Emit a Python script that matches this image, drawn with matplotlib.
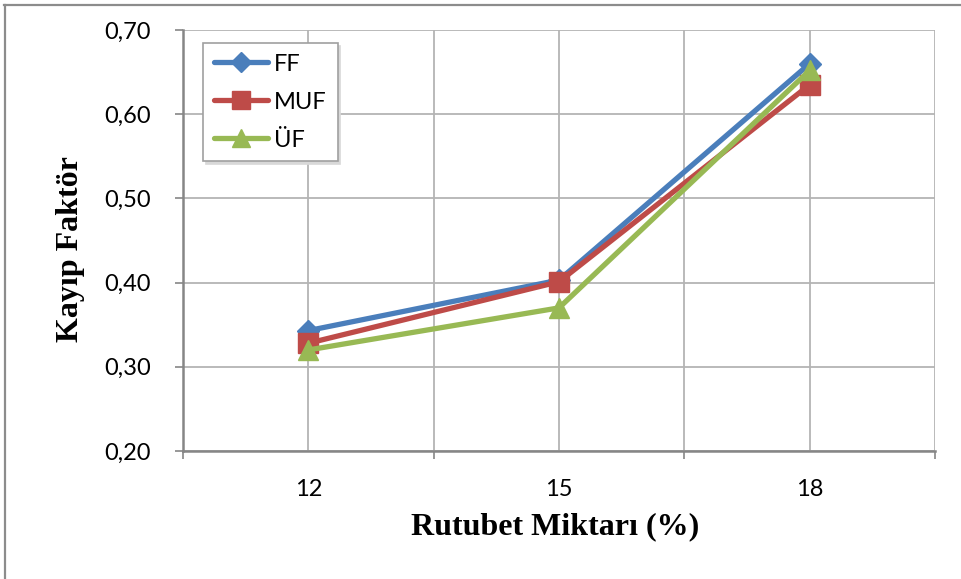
import matplotlib
matplotlib.use("Agg")
import matplotlib.pyplot as plt
from matplotlib.lines import Line2D
from matplotlib.ticker import FuncFormatter

# Moisture content categories (%)
categories = ["12", "15", "18"]

# Loss factor per treatment
ff = [0.343, 0.403, 0.660]
muf = [0.328, 0.401, 0.635]
uf = [0.320, 0.370, 0.652]

series_names = ["FF", "MUF", "ÜF"]
series_values = [ff, muf, uf]
colors = ["#4A7EBB", "#BE4B48", "#98B954"]
markers = ["D", "s", "^"]
marker_sizes = [11, 14, 14]

y_ticks = [0.20, 0.30, 0.40, 0.50, 0.60, 0.70]

fig = plt.figure(figsize=(9.61, 5.79), dpi=100)
ax = fig.add_axes([183 / 961, 1 - 451 / 579, (935 - 183) / 961, (451 - 30) / 579])

x = list(range(len(categories)))
for name, vals, c, m, ms in zip(series_names, series_values, colors, markers, marker_sizes):
    ax.plot(x, vals, color=c, lw=3.8, marker=m, markersize=ms,
            markerfacecolor=c, markeredgecolor=c, label=name, solid_capstyle="round",
            clip_on=False, zorder=3)

ax.set_xlim(-0.5, len(categories) - 0.5)
ax.set_ylim(0.20, 0.70)

# Category boundaries carry tick marks; labels sit at category centres
ax.set_xticks([i - 0.5 for i in range(len(categories) + 1)])
ax.set_xticklabels([])
ax.set_xticks(x, minor=True)
ax.set_xticklabels(categories, minor=True)
ax.tick_params(axis="x", which="major", direction="out", length=6, width=1.2, color="#868686")
ax.tick_params(axis="x", which="minor", length=0, pad=20, labelsize=17)

ax.set_yticks(y_ticks)
ax.yaxis.set_major_formatter(FuncFormatter(lambda v, p: f"{v:.2f}".replace(".", ",")))
ax.tick_params(axis="y", direction="out", length=6, width=1.2, color="#868686", pad=17, labelsize=17)

for lab in ax.get_xticklabels(minor=True) + ax.get_yticklabels():
    lab.set_fontfamily("Lato")

ax.grid(True, which="both", axis="x", color="#B4B4B4", lw=1.3)
ax.grid(True, which="major", axis="y", color="#B4B4B4", lw=1.3)
ax.set_axisbelow(True)

for side in ["top", "right"]:
    ax.spines[side].set_visible(False)
for side in ["left", "bottom"]:
    ax.spines[side].set_color("#868686")
    ax.spines[side].set_linewidth(1.8)

ax.set_xlabel("Rutubet Miktarı (%)", family="Liberation Serif", fontweight="bold",
              fontsize=23)
ax.set_ylabel("Kayıp Faktör", family="Liberation Serif", fontweight="bold",
              fontsize=23)
ax.xaxis.set_label_coords(0.495, -0.145)
ax.yaxis.set_label_coords(-0.13, 0.48)

leg = ax.legend(loc="upper left", bbox_to_anchor=(0.027, 0.969), borderaxespad=0,
                frameon=True, fancybox=False, shadow={"color": "#D8D8D8", "alpha": 1.0},
                handlelength=2.3, handletextpad=0.25, labelspacing=0.72, borderpad=0.45,
                prop={"family": "Lato", "size": 17}, markerscale=0.95)
leg.get_frame().set_edgecolor("#A0A0A0")
leg.get_frame().set_linewidth(1.2)
leg.set_zorder(5)

# Outer chart frame (top and left edges)
fig.add_artist(Line2D([4 / 961, 1.0], [1 - 5 / 579, 1 - 5 / 579], color="#8C8C8C", lw=1.6))
fig.add_artist(Line2D([5 / 961, 5 / 961], [0.0, 1 - 5 / 579], color="#8C8C8C", lw=1.6))

fig.savefig("out.png", dpi=100)
